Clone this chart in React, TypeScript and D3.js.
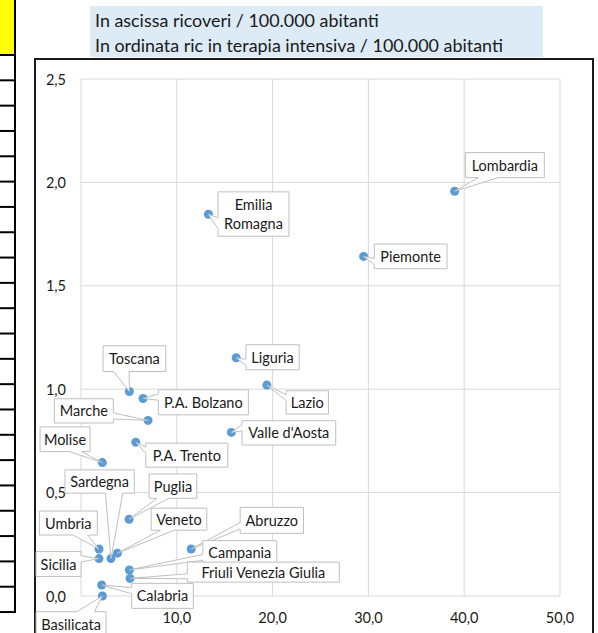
import React from "react";
import * as d3 from "d3";

// ---- data ----
const regions = [
  "Lombardia", "Emilia\nRomagna", "Piemonte", "Liguria", "Lazio", "Valle d'Aosta",
  "Toscana", "P.A. Bolzano", "Marche", "Molise", "P.A. Trento", "Sardegna",
  "Puglia", "Veneto", "Umbria", "Sicilia", "Abruzzo", "Campania",
  "Friuli Venezia Giulia", "Calabria", "Basilicata",
];
const ricoveri = [
  39.0, 13.3, 29.5, 16.2, 19.4, 15.7,
  5.05, 6.48, 7.0, 2.23, 5.72, 3.13,
  5.02, 3.8, 1.88, 1.88, 11.5, 5.05,
  5.12, 2.16, 2.23,
];
const terapiaIntensiva = [
  1.957, 1.846, 1.642, 1.152, 1.02, 0.791,
  0.989, 0.955, 0.849, 0.645, 0.744, 0.181,
  0.371, 0.207, 0.227, 0.181, 0.227, 0.126,
  0.085, 0.053, 0.0,
];
const xTicks = [0, 10, 20, 30, 40, 50];
const yTicks = [0, 0.5, 1.0, 1.5, 2.0, 2.5];
const titleLines = [
  "In ascissa ricoveri / 100.000 abitanti",
  "In ordinata ric in terapia intensiva / 100.000 abitanti",
];

// ---- label layout (box offset from point: left, top, width, height) ----
const labelBoxes: [number, number, number, number][] = [
  [10.7, -38.7, 79, 25],
  [9.6, -22.4, 71, 44.4],
  [10.7, -12.4, 72.7, 24.7],
  [9.7, -13, 53.3, 25],
  [19.3, 5.7, 42.3, 23.3],
  [10.6, -11.7, 93.7, 24.3],
  [-26.3, -45.7, 62.7, 25.7],
  [15.3, -8.7, 90, 25],
  [-93.7, -21.7, 59, 24.3],
  [-62.3, -35.7, 50, 24.7],
  [10, 1, 82, 24],
  [-46, -88.7, 69.3, 23.3],
  [20, -45.3, 47.7, 24.3],
  [33.7, -45, 55.7, 22],
  [-59.7, -38, 58, 24],
  [-63, -7, 45, 25],
  [49, -41.7, 63.3, 26],
  [73.4, -29.3, 74, 23.6],
  [57.3, -16.3, 152, 20],
  [30, -1.7, 61.6, 25],
  [-66.3, 15.7, 70, 25],
];

const W = 598, H = 633;
const FONT = "Lato, 'Open Sans', sans-serif";

function calloutPath(l: number, t: number, w: number, h: number, px: number, py: number) {
  const r = l + w, b = t + h;
  const cx = l + w / 2, cy = t + h / 2;
  const dx = px - cx, dy = py - cy;
  if (px >= l && px <= r && py >= t && py <= b) {
    return `M${l},${t}H${r}V${b}H${l}Z`;
  }
  if (Math.abs(dy) / h > Math.abs(dx) / w) {
    const x1 = l + (w * (dx > 0 ? 7 : 2)) / 12;
    const x2 = l + (w * (dx > 0 ? 10 : 5)) / 12;
    if (dy > 0) return `M${l},${t}H${r}V${b}H${x2}L${px},${py}L${x1},${b}H${l}Z`;
    return `M${l},${t}H${x1}L${px},${py}L${x2},${t}H${r}V${b}H${l}Z`;
  } else {
    const y1 = t + (h * (dy > 0 ? 7 : 2)) / 12;
    const y2 = t + (h * (dy > 0 ? 10 : 5)) / 12;
    if (dx > 0) return `M${l},${t}H${r}V${y1}L${px},${py}L${r},${y2}V${b}H${l}Z`;
    return `M${l},${t}H${r}V${b}H${l}V${y2}L${px},${py}L${l},${y1}Z`;
  }
}

export default function App() {
  const x = d3.scaleLinear().domain([0, 50]).range([81, 560]);
  const y = d3.scaleLinear().domain([0, 2.5]).range([596, 79]);
  const fmt = (v: number) => v.toFixed(1).replace(".", ",");

  const tableRows = d3.range(23).map((i) => 55 + i * 25.32);

  return (
    <svg
      width={W}
      height={H}
      style={{ position: "absolute", left: 0, top: 0, background: "#fff" }}
      fontFamily={FONT}
    >
      {/* left spreadsheet strip */}
      <rect x={0} y={0} width={15} height={55} fill="#ffff00" />
      {tableRows.map((ty, i) => (
        <line key={i} x1={0} x2={16} y1={ty} y2={ty} stroke="#000" strokeWidth={2} />
      ))}
      <line x1={15} x2={15} y1={0} y2={612} stroke="#000" strokeWidth={2} />

      {/* title box */}
      <rect x={90} y={6} width={453} height={51} fill="#ddebf7" />
      {titleLines.map((t, i) => (
        <text key={i} x={95} y={20 + i * 25} dominantBaseline="central" fontSize={17.9} fill="#1a1a1a">
          {t}
        </text>
      ))}

      {/* chart border */}
      <rect x={35} y={59} width={558} height={600} fill="none" stroke="#1a1a1a" strokeWidth={2} />

      {/* grid */}
      {xTicks.map((v) => (
        <line key={"gx" + v} x1={x(v)} x2={x(v)} y1={y(2.5)} y2={y(0)} stroke="#d9d9d9" strokeWidth={1} />
      ))}
      {yTicks.map((v) => (
        <line key={"gy" + v} x1={x(0)} x2={x(50)} y1={y(v)} y2={y(v)} stroke="#d9d9d9" strokeWidth={1} />
      ))}

      {/* tick labels */}
      {yTicks.map((v) => (
        <text key={"ty" + v} x={66} y={y(v)} textAnchor="end" dominantBaseline="central" fontSize={14.5} fill="#1a1a1a">
          {fmt(v)}
        </text>
      ))}
      {xTicks.map((v) => (
        <text key={"tx" + v} x={x(v)} y={617} textAnchor="middle" dominantBaseline="central" fontSize={14.5} fill="#1a1a1a">
          {fmt(v)}
        </text>
      ))}

      {/* points */}
      {regions.map((r, i) => (
        <circle key={"p" + i} cx={x(ricoveri[i])} cy={y(terapiaIntensiva[i])} r={4.5} fill="#5b9bd5" />
      ))}

      {/* callout labels */}
      {regions.map((r, i) => {
        const px = x(ricoveri[i]);
        const py = y(terapiaIntensiva[i]);
        const [ox, oy, w, h] = labelBoxes[i];
        const l = px + ox, t = py + oy;
        const lines = r.split("\n");
        const lh = 19;
        return (
          <g key={"l" + i}>
            <path d={calloutPath(l, t, w, h, px, py)} fill="#fff" stroke="#bfbfbf" strokeWidth={1} />
            {lines.map((ln, j) => (
              <text
                key={j}
                x={l + w / 2}
                y={t + h / 2 + (j - (lines.length - 1) / 2) * lh}
                textAnchor="middle"
                dominantBaseline="central"
                fontSize={14.5}
                fill="#1a1a1a"
              >
                {ln}
              </text>
            ))}
          </g>
        );
      })}
    </svg>
  );
}
